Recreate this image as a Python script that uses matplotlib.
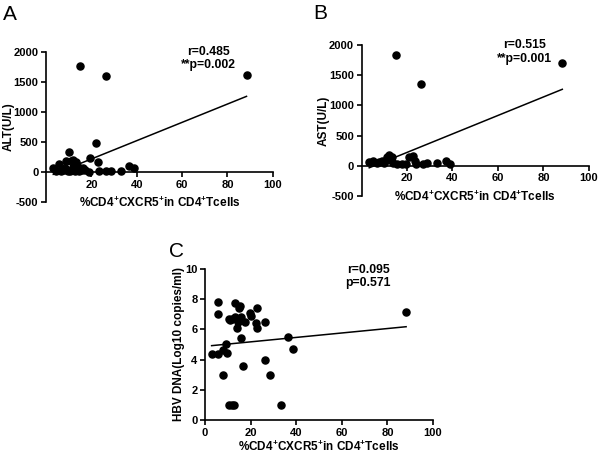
import matplotlib
matplotlib.use("Agg")
import matplotlib.pyplot as plt
import numpy as np

plt.rcParams['font.family'] = ['Liberation Sans', 'DejaVu Sans']
plt.rcParams['mathtext.fontset'] = 'custom'
plt.rcParams['mathtext.rm'] = 'Liberation Sans'
plt.rcParams['mathtext.bf'] = 'Liberation Sans:bold'
plt.rcParams['axes.unicode_minus'] = False

# ---- Panel A: ALT ----
a_x = [3.2, 5.6, 4.6, 6.4, 7.8, 9.0, 10.0, 10.7, 11.1, 12.0, 12.6, 13.0, 14.4, 14.9,
       15.9, 17.3, 18.8, 19.6, 22.2, 22.8, 23.3, 26.3, 26.6, 28.6, 33.0, 36.7, 38.9,
       88.4, 8.5, 11.5, 13.5, 16.5, 12.0, 9.5]
a_y = [72, 128, 22, 22, 33, 183, 339, 17, 183, 89, 15, 172, 22, 1760,
       33, 33, 5, 228, 478, 172, 22, 1600, 22, 17, 17, 105, 62,
       1620, 60, 40, 110, 60, 200, 20]
a_fit = (-88.0, 15.27)
a_stats = ["r=0.485", "**p=0.002"]

# ---- Panel B: AST ----
b_x = [3.4, 5.2, 6.6, 8.9, 11.1, 12.2, 13.2, 10.4, 9.7, 14.0, 15.2, 15.7, 17.7, 19.4,
       21.0, 22.8, 23.4, 24.0, 26.3, 26.9, 28.9, 33.0, 37.1, 38.9, 88.3, 7.5, 12.8, 11.8]
b_y = [61, 83, 45, 72, 154, 182, 143, 83, 40, 55, 1835, 35, 33, 33,
       154, 165, 72, 33, 1350, 33, 44, 44, 72, 33, 1700, 60, 100, 120]
b_fit = (-84.0, 15.3)
b_stats = ["r=0.515", "**p=0.001"]

# ---- Panel C: HBV DNA ----
c_x = [2.9, 5.8, 5.6, 5.6, 7.8, 7.8, 9.1, 9.8, 10.4, 10.7, 11.1, 11.8, 13.3, 13.3,
       11.8, 12.9, 13.9, 15.0, 15.3, 14.6, 15.6, 15.8, 16.8, 17.5, 19.7, 20.0, 22.9,
       22.4, 22.8, 26.3, 26.3, 28.5, 33.3, 36.5, 38.7, 88.2]
c_y = [4.4, 4.4, 7.83, 7.05, 4.64, 3.0, 5.0, 4.46, 6.67, 1.0, 6.6, 6.7, 6.84, 7.77,
       1.0, 1.0, 6.07, 7.4, 7.55, 6.51, 6.8, 5.41, 3.58, 6.51, 7.07, 6.9, 7.4,
       6.4, 6.07, 6.51, 3.97, 3.0, 1.0, 5.47, 4.68, 7.13]
c_fit = (4.88, 0.0147)
c_stats = ["r=0.095", "p=0.571"]

xlabel = r'%CD4$^{\mathbf{+}}$CXCR5$^{\mathbf{+}}$in CD4$^{\mathbf{+}}$Tcells'

fig = plt.figure(figsize=(6.0, 4.57), dpi=100)

FS = 8
LFS = 8.5
SFS = 8.8


def panel(rect, xs, ys, fit, stats, ylabel, ylim, yticks, xticks, zero_axis, stat_y, ylab_x):
    ax = fig.add_axes(rect)
    ax.scatter(xs, ys, s=26, color='black', zorder=3, clip_on=False)
    lx = np.array([min(xs), max(xs)])
    ax.plot(lx, fit[0] + fit[1] * lx, color='black', lw=1.1, zorder=2)
    ax.set_xlim(0, 100)
    ax.set_ylim(*ylim)
    ax.set_xticks(xticks)
    ax.set_yticks(yticks)
    ax.spines['top'].set_visible(False)
    ax.spines['right'].set_visible(False)
    for s in ('left', 'bottom'):
        ax.spines[s].set_linewidth(1.2)
    if zero_axis:
        ax.spines['bottom'].set_position(('data', 0))
    ax.tick_params(direction='out', length=3.5, width=1.2, labelsize=FS, pad=2)
    for lab in ax.get_xticklabels() + ax.get_yticklabels():
        lab.set_fontweight('bold')
    ax.set_ylabel(ylabel, fontsize=LFS, fontweight='bold')
    ax.yaxis.set_label_coords(ylab_x, 0.5)
    ax.text(71.5, stat_y[0], stats[0], ha='center', va='center', fontsize=SFS, fontweight='bold')
    ax.text(71.5, stat_y[1], stats[1], ha='center', va='center', fontsize=SFS, fontweight='bold')
    return ax


axA = panel([0.0767, 0.558, 0.378, 0.328], a_x, a_y, a_fit, a_stats, 'ALT(U/L)',
            (-500, 2000), [-500, 0, 500, 1000, 1500, 2000], [20, 40, 60, 80, 100], True,
            (2000, 1780), -0.137)
axA.text(0.5, -0.008, xlabel, transform=axA.transAxes, ha='center', va='center',
         fontsize=LFS, fontweight='bold')

axB = panel([0.6025, 0.571, 0.379, 0.3305], b_x, b_y, b_fit, b_stats, 'AST(U/L)',
            (-500, 2000), [-500, 0, 500, 1000, 1500, 2000], [20, 40, 60, 80, 100], True,
            (2000, 1770), -0.14)
axB.text(0.5, -0.005, xlabel, transform=axB.transAxes, ha='center', va='center',
         fontsize=LFS, fontweight='bold')

axC = panel([0.3417, 0.081, 0.38, 0.3304], c_x, c_y, c_fit, c_stats,
            'HBV DNA(Log10 copies/ml)', (0, 10), [0, 2, 4, 6, 8, 10],
            [0, 20, 40, 60, 80, 100], False, (9.95, 9.1), -0.088)
axC.set_xlabel(xlabel, fontsize=LFS, fontweight='bold', labelpad=1)

fig.text(0.005, 0.988, 'A', fontsize=15, va='top', ha='left')
fig.text(0.522, 0.992, 'B', fontsize=15, va='top', ha='left')
fig.text(0.281, 0.47, 'C', fontsize=15, va='top', ha='left')

fig.savefig('out.png', dpi=100)
